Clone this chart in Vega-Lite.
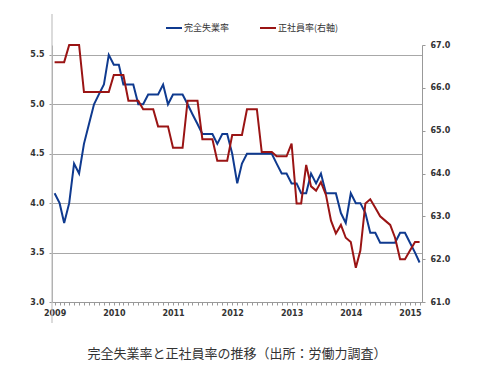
{
  "$schema": "https://vega.github.io/schema/vega-lite/v6.json",
  "width": 370,
  "height": 257,
  "autosize": {"type": "none"},
  "padding": {"left": 52, "top": 45, "right": 65, "bottom": 67},
  "background": "white",
  "config": {"view": {"stroke": null}, "font": "DejaVu Sans"},
  "title": {
    "text": "完全失業率と正社員率の推移（出所：労働力調査）",
    "orient": "bottom",
    "anchor": "middle",
    "font": "Noto Sans CJK JP",
    "fontSize": 13,
    "fontWeight": "normal",
    "color": "#333333",
    "offset": 24
  },
  "data": {
    "values": [
      {"date": "2009-01-01", "unemp": 4.1, "regular": 66.6},
      {"date": "2009-02-01", "unemp": 4.0, "regular": 66.6},
      {"date": "2009-03-01", "unemp": 3.8, "regular": 66.6},
      {"date": "2009-04-01", "unemp": 4.0, "regular": 67.0},
      {"date": "2009-05-01", "unemp": 4.4, "regular": 67.0},
      {"date": "2009-06-01", "unemp": 4.3, "regular": 67.0},
      {"date": "2009-07-01", "unemp": 4.6, "regular": 65.9},
      {"date": "2009-08-01", "unemp": 4.8, "regular": 65.9},
      {"date": "2009-09-01", "unemp": 5.0, "regular": 65.9},
      {"date": "2009-10-01", "unemp": 5.1, "regular": 65.9},
      {"date": "2009-11-01", "unemp": 5.2, "regular": 65.9},
      {"date": "2009-12-01", "unemp": 5.5, "regular": 65.9},
      {"date": "2010-01-01", "unemp": 5.4, "regular": 66.3},
      {"date": "2010-02-01", "unemp": 5.4, "regular": 66.3},
      {"date": "2010-03-01", "unemp": 5.2, "regular": 66.3},
      {"date": "2010-04-01", "unemp": 5.2, "regular": 65.7},
      {"date": "2010-05-01", "unemp": 5.2, "regular": 65.7},
      {"date": "2010-06-01", "unemp": 5.0, "regular": 65.7},
      {"date": "2010-07-01", "unemp": 5.0, "regular": 65.5},
      {"date": "2010-08-01", "unemp": 5.1, "regular": 65.5},
      {"date": "2010-09-01", "unemp": 5.1, "regular": 65.5},
      {"date": "2010-10-01", "unemp": 5.1, "regular": 65.1},
      {"date": "2010-11-01", "unemp": 5.2, "regular": 65.1},
      {"date": "2010-12-01", "unemp": 5.0, "regular": 65.1},
      {"date": "2011-01-01", "unemp": 5.1, "regular": 64.6},
      {"date": "2011-02-01", "unemp": 5.1, "regular": 64.6},
      {"date": "2011-03-01", "unemp": 5.1, "regular": 64.6},
      {"date": "2011-04-01", "unemp": 5.0, "regular": 65.7},
      {"date": "2011-05-01", "unemp": 4.9, "regular": 65.7},
      {"date": "2011-06-01", "unemp": 4.8, "regular": 65.7},
      {"date": "2011-07-01", "unemp": 4.7, "regular": 64.8},
      {"date": "2011-08-01", "unemp": 4.7, "regular": 64.8},
      {"date": "2011-09-01", "unemp": 4.7, "regular": 64.8},
      {"date": "2011-10-01", "unemp": 4.6, "regular": 64.3},
      {"date": "2011-11-01", "unemp": 4.7, "regular": 64.3},
      {"date": "2011-12-01", "unemp": 4.7, "regular": 64.3},
      {"date": "2012-01-01", "unemp": 4.5, "regular": 64.9},
      {"date": "2012-02-01", "unemp": 4.2, "regular": 64.9},
      {"date": "2012-03-01", "unemp": 4.4, "regular": 64.9},
      {"date": "2012-04-01", "unemp": 4.5, "regular": 65.5},
      {"date": "2012-05-01", "unemp": 4.5, "regular": 65.5},
      {"date": "2012-06-01", "unemp": 4.5, "regular": 65.5},
      {"date": "2012-07-01", "unemp": 4.5, "regular": 64.5},
      {"date": "2012-08-01", "unemp": 4.5, "regular": 64.5},
      {"date": "2012-09-01", "unemp": 4.5, "regular": 64.5},
      {"date": "2012-10-01", "unemp": 4.4, "regular": 64.4},
      {"date": "2012-11-01", "unemp": 4.3, "regular": 64.4},
      {"date": "2012-12-01", "unemp": 4.3, "regular": 64.4},
      {"date": "2013-01-01", "unemp": 4.2, "regular": 64.7},
      {"date": "2013-02-01", "unemp": 4.2, "regular": 63.3},
      {"date": "2013-03-01", "unemp": 4.1, "regular": 63.3},
      {"date": "2013-04-01", "unemp": 4.1, "regular": 64.2},
      {"date": "2013-05-01", "unemp": 4.3, "regular": 63.7},
      {"date": "2013-06-01", "unemp": 4.2, "regular": 63.6},
      {"date": "2013-07-01", "unemp": 4.3, "regular": 63.8},
      {"date": "2013-08-01", "unemp": 4.1, "regular": 63.5},
      {"date": "2013-09-01", "unemp": 4.1, "regular": 62.9},
      {"date": "2013-10-01", "unemp": 4.1, "regular": 62.6},
      {"date": "2013-11-01", "unemp": 3.9, "regular": 62.8},
      {"date": "2013-12-01", "unemp": 3.8, "regular": 62.5},
      {"date": "2014-01-01", "unemp": 4.1, "regular": 62.4},
      {"date": "2014-02-01", "unemp": 4.0, "regular": 61.8},
      {"date": "2014-03-01", "unemp": 4.0, "regular": 62.2},
      {"date": "2014-04-01", "unemp": 3.9, "regular": 63.3},
      {"date": "2014-05-01", "unemp": 3.7, "regular": 63.4},
      {"date": "2014-06-01", "unemp": 3.7, "regular": 63.2},
      {"date": "2014-07-01", "unemp": 3.6, "regular": 63.0},
      {"date": "2014-08-01", "unemp": 3.6, "regular": 62.9},
      {"date": "2014-09-01", "unemp": 3.6, "regular": 62.8},
      {"date": "2014-10-01", "unemp": 3.6, "regular": 62.5},
      {"date": "2014-11-01", "unemp": 3.7, "regular": 62.0},
      {"date": "2014-12-01", "unemp": 3.7, "regular": 62.0},
      {"date": "2015-01-01", "unemp": 3.6, "regular": 62.2},
      {"date": "2015-02-01", "unemp": 3.5, "regular": 62.4},
      {"date": "2015-03-01", "unemp": 3.4, "regular": 62.4}
    ]
  },
  "layer": [
    {
      "layer": [
        {
          "data": {"values": [{"frame": "chart"}]},
          "mark": {"type": "rect", "fill": "#ffffff", "fillOpacity": 0, "stroke": "#c4c4c4", "strokeWidth": 1.2, "cornerRadius": 3, "clip": false},
          "encoding": {
            "x": {"datum": "2008-07-15", "type": "temporal"},
            "x2": {"datum": "2015-09-05"},
            "y": {"datum": 5.914, "type": "quantitative"},
            "y2": {"datum": 2.788}
          }
        },
        {
          "mark": {"type": "line", "strokeWidth": 2, "clip": false},
          "encoding": {
            "x": {
              "field": "date",
              "type": "temporal",
              "scale": {
                "type": "utc",
                "domain": ["2008-12-16", "2015-03-16"]
              },
              "axis": {
                "title": null,
                "tickCount": {"interval": "month", "step": 1},
                "labelExpr": "utcFormat(datum.value, '%m') == '01' ? utcFormat(datum.value, '%Y') : ''",
                "labelOverlap": false,
                "labelFlush": false,
                "labelBound": false,
                "grid": false,
                "domainColor": "#999999",
                "tickColor": "#999999",
                "tickSize": 3,
                "labelFontSize": 8,
                "labelFontWeight": "bold",
                "labelColor": "#333333",
                "labelPadding": 4
              }
            },
            "y": {
              "field": "unemp",
              "type": "quantitative",
              "scale": {"domain": [3, 5.6], "nice": false, "zero": false},
              "axis": {
                "title": null,
                "orient": "left",
                "values": [3, 3.5, 4, 4.5, 5, 5.5],
                "format": ".1f",
                "grid": true,
                "gridColor": "#a8a8a8",
                "domainColor": "#999999",
                "tickColor": "#999999",
                "tickSize": 3,
                "labelFontSize": 8,
                "labelFontWeight": "bold",
                "labelColor": "#333333",
                "labelPadding": 5
              }
            },
            "color": {
              "datum": "完全失業率",
              "type": "nominal",
              "scale": {"domain": ["完全失業率", "正社員率(右軸)"], "range": ["#0f3a8f", "#9a1414"]},
              "legend": {
                "orient": "none",
                "legendX": 113,
                "legendY": -26,
                "direction": "horizontal",
                "title": null,
                "symbolType": "stroke",
                "symbolSize": 256,
                "symbolStrokeWidth": 2,
                "labelFont": "Noto Sans CJK JP",
                "labelFontSize": 9,
                "labelColor": "#333333",
                "columnPadding": 26,
                "labelOffset": 1
              }
            }
          }
        }
      ]
    },
    {
      "mark": {"type": "line", "strokeWidth": 2},
      "encoding": {
        "x": {"field": "date", "type": "temporal"},
        "y": {
          "field": "regular",
          "type": "quantitative",
          "scale": {"domain": [61, 67], "nice": false, "zero": false},
          "axis": {
            "title": null,
            "orient": "right",
            "values": [61, 62, 63, 64, 65, 66, 67],
            "format": ".1f",
            "grid": false,
            "domainColor": "#999999",
            "tickColor": "#999999",
            "tickSize": 3,
            "labelFontSize": 8,
            "labelFontWeight": "bold",
            "labelColor": "#333333",
            "labelPadding": 5
          }
        },
        "color": {"datum": "正社員率(右軸)", "type": "nominal"}
      }
    }
  ],
  "resolve": {"scale": {"y": "independent"}}
}
